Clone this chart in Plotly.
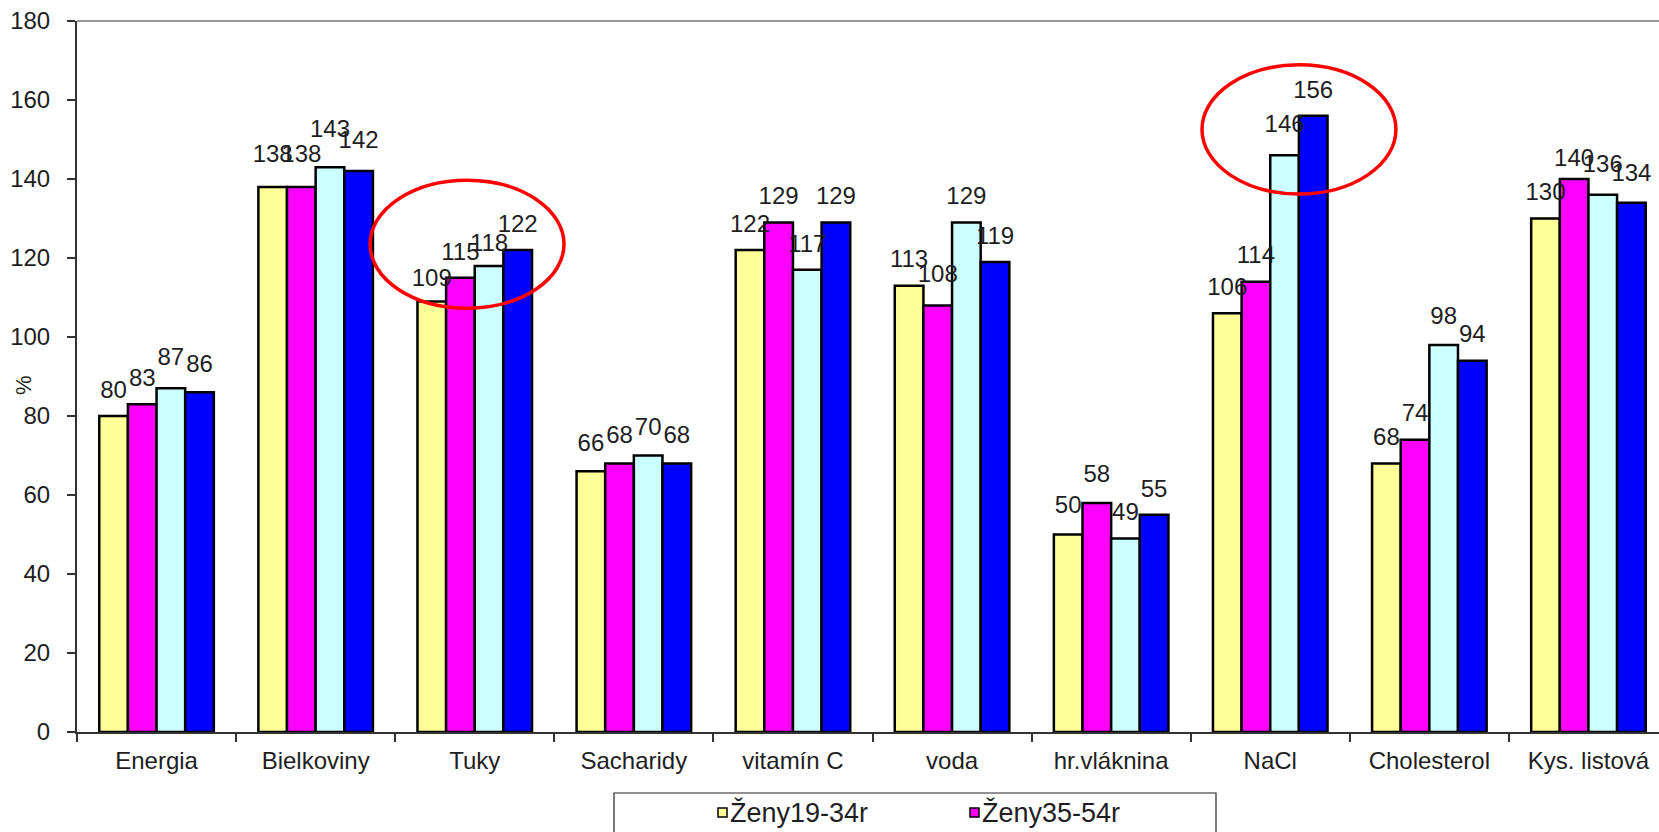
import plotly.graph_objects as go

# Percent of recommended daily intake by nutrient and population group
categories = ["Energia", "Bielkoviny", "Tuky", "Sacharidy", "vitamín C", "voda",
              "hr.vláknina", "NaCl", "Cholesterol", "Kys. listová"]
series_names = ["Ženy19-34r", "Ženy35-54r", "Muži19-34r", "Muži35-54r"]
zeny_19_34 = [80, 138, 109, 66, 122, 113, 50, 106, 68, 130]
zeny_35_54 = [83, 138, 115, 68, 129, 108, 58, 114, 74, 140]
muzi_19_34 = [87, 143, 118, 70, 117, 129, 49, 146, 98, 136]
muzi_35_54 = [86, 142, 122, 68, 129, 119, 55, 156, 94, 134]
y_ticks = [0, 20, 40, 60, 80, 100, 120, 140, 160, 180]

series_values = [zeny_19_34, zeny_35_54, muzi_19_34, muzi_35_54]
colors = ["#FFFF99", "#FF00FF", "#CCFFFF", "#0000FF"]

# per-label lift above the bar top (invisible marker size -> text offset)
label_lift = [
    [18, 28, 13, 21, 18, 18, 23, 18, 18, 18],
    [18, 28, 18, 21, 18, 26, 23, 18, 18, 10],
    [26, 37, 13, 21, 18, 18, 18, 26, 23, 26],
    [21, 25, 18, 21, 18, 18, 18, 18, 18, 23],
]

W, H = 1659, 832
L, R, T, B = 77, 0, 21, 100
plot_w = W - L - R
plot_h = H - T - B
cat_px = 159.1  # width of one category slot in pixels
FONT = "Liberation Sans, Arial, sans-serif"
TEXT = "#1e1e1e"
GAP = 0.28


def px_x(p):
    return (p - L) / plot_w


def px_y(p):
    return (H - B - p) / plot_h


fig = go.Figure()

for i, (name, vals) in enumerate(zip(series_names, series_values)):
    fig.add_trace(go.Bar(
        x=categories, y=vals, name=name,
        marker=dict(color=colors[i], line=dict(color="black", width=2.5)),
        offsetgroup=str(i), showlegend=False,
    ))

# value labels above each bar
for i, (name, vals) in enumerate(zip(series_names, series_values)):
    fig.add_trace(go.Scatter(
        x=categories, y=vals, mode="markers+text",
        text=[str(v) for v in vals], textposition="top center",
        textfont=dict(family=FONT, size=24, color=TEXT),
        marker=dict(size=label_lift[i], opacity=0),
        offsetgroup=str(i), cliponaxis=False, showlegend=False,
        hoverinfo="skip",
    ))

shapes = [
    # top frame line
    dict(type="line", xref="paper", yref="paper", x0=0, x1=1, y0=1, y1=1,
         line=dict(color="#9a9a9a", width=2)),
    # red highlight ellipses
    dict(type="circle", xref="x", yref="y", x0=1.342, x1=2.561, y0=107.3, y1=139.7,
         line=dict(color="#FF0000", width=3.5)),
    dict(type="circle", xref="x", yref="y", x0=6.571, x1=7.790, y0=136.2, y1=168.9,
         line=dict(color="#FF0000", width=3.5)),
    # legend box
    dict(type="rect", xref="paper", yref="paper", x0=px_x(614), x1=px_x(1216),
         y0=px_y(900), y1=px_y(793), line=dict(color="#222222", width=1.2),
         fillcolor="white"),
]

annotations = [
    dict(text="%", xref="paper", yref="paper", x=px_x(23), y=px_y(385),
         textangle=-90, showarrow=False, xanchor="center", yanchor="middle",
         font=dict(family=FONT, size=22, color=TEXT)),
]

# legend entries (first row)
legend_x = [718, 970]
for k in range(2):
    x0 = legend_x[k]
    shapes.append(dict(type="rect", xref="paper", yref="paper",
                       x0=px_x(x0), x1=px_x(x0 + 9), y0=px_y(817), y1=px_y(808),
                       line=dict(color="black", width=1.5), fillcolor=colors[k]))
    annotations.append(dict(text=series_names[k], xref="paper", yref="paper",
                            x=px_x(x0 + 10), y=px_y(812), showarrow=False,
                            xanchor="left", yanchor="middle",
                            font=dict(family=FONT, size=27, color=TEXT)))

fig.update_layout(
    width=W, height=H,
    margin=dict(l=L, r=R, t=T, b=B, pad=0),
    paper_bgcolor="white", plot_bgcolor="white",
    barmode="group", bargap=GAP, bargroupgap=0,
    scattermode="group", scattergap=GAP,
    shapes=shapes, annotations=annotations,
    showlegend=False,
    font=dict(family=FONT, color=TEXT),
)

fig.update_xaxes(
    type="category", range=[-0.5, -0.5 + plot_w / cat_px],
    tickson="boundaries", ticks="outside", ticklen=8, tickwidth=1.5, tickcolor="#333333",
    showline=True, linecolor="#333333", linewidth=2,
    showgrid=False, zeroline=False,
    tickfont=dict(family=FONT, size=24, color=TEXT),
    ticklabelstandoff=6,
)

fig.update_yaxes(
    range=[0, 180], tickmode="array", tickvals=y_ticks,
    ticks="outside", ticklen=8, tickwidth=1.5, tickcolor="#333333",
    showline=True, linecolor="#333333", linewidth=2,
    showgrid=False, zeroline=False,
    tickfont=dict(family=FONT, size=24, color=TEXT),
    ticklabelstandoff=12,
)

fig.write_html("out.html")
